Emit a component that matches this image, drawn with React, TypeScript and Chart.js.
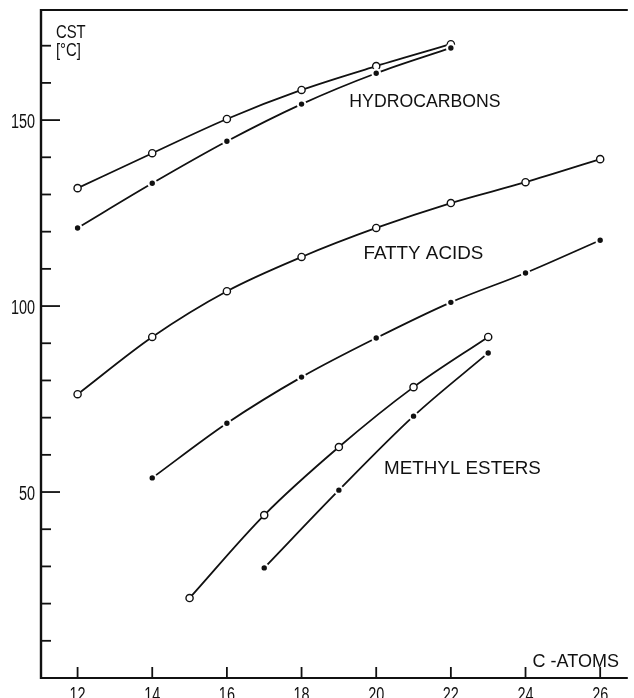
import React, { useEffect, useRef } from "react";
import { Chart, registerables } from "chart.js";

Chart.register(...registerables);

// ---- data (C-atoms vs CST in °C) ----
const hcX = [12, 14, 16, 18, 20, 22];
const hcOpen = [131.7, 141.1, 150.3, 158.1, 164.5, 170.4];
const hcFilled = [121.0, 133.0, 144.3, 154.3, 162.6, 169.4];

const faOpenX = [12, 14, 16, 18, 20, 22, 24, 26];
const faOpen = [76.3, 91.7, 104.0, 113.2, 121.0, 127.7, 133.3, 139.5];
const faFilledX = [14, 16, 18, 20, 22, 24, 26];
const faFilled = [53.8, 68.5, 80.9, 91.4, 101.0, 108.9, 117.7];

const meOpenX = [15, 17, 19, 21, 23];
const meOpen = [21.5, 43.8, 62.1, 78.2, 91.7];
const meFilledX = [17, 19, 21, 23];
const meFilled = [29.6, 50.5, 70.4, 87.4];

const xTicks = [12, 14, 16, 18, 20, 22, 24, 26];
const yMajorTicks = [50, 100, 150];
const yMinorTicks = [10, 20, 30, 40, 60, 70, 80, 90, 110, 120, 130, 140, 160, 170];

const seriesLabels = ["HYDROCARBONS", "FATTY ACIDS", "METHYL ESTERS"];
const axisTitleX = "C -ATOMS";
const axisTitleY = ["CST", "[°C]"];

const toPts = (xs: number[], ys: number[]) => xs.map((x, i) => ({ x, y: ys[i] }));

const INK = "#111";
const FONT = "Liberation Sans, Arial, sans-serif";

function drawText(
  ctx: CanvasRenderingContext2D,
  text: string,
  x: number,
  y: number,
  size: number,
  sx: number,
  align: "left" | "right" | "center"
) {
  ctx.save();
  ctx.font = `${size}px ${FONT}`;
  ctx.fillStyle = INK;
  ctx.textBaseline = "alphabetic";
  const w = ctx.measureText(text).width * sx;
  let left = x;
  if (align === "right") left = x - w;
  if (align === "center") left = x - w / 2;
  ctx.translate(left, y);
  ctx.scale(sx, 1);
  ctx.textAlign = "left";
  ctx.fillText(text, 0, 0);
  ctx.restore();
}

const framePlugin = {
  id: "frame",
  beforeDatasetsDraw(chart: any) {
    const { ctx, chartArea } = chart;
    const xs = chart.scales.x;
    const ys = chart.scales.y;
    ctx.save();
    ctx.strokeStyle = INK;
    ctx.lineCap = "butt";
    // left spine
    ctx.lineWidth = 2.4;
    ctx.beginPath();
    ctx.moveTo(chartArea.left, chartArea.top - 1);
    ctx.lineTo(chartArea.left, chartArea.bottom + 1);
    ctx.stroke();
    // bottom axis
    ctx.lineWidth = 2.2;
    ctx.beginPath();
    ctx.moveTo(chartArea.left - 1, chartArea.bottom);
    ctx.lineTo(chartArea.right, chartArea.bottom);
    ctx.stroke();
    // top border
    ctx.lineWidth = 1.8;
    ctx.beginPath();
    ctx.moveTo(chartArea.left - 1, chartArea.top);
    ctx.lineTo(chartArea.right, chartArea.top);
    ctx.stroke();
    // y ticks (inward)
    ctx.lineWidth = 1.8;
    yMajorTicks.forEach((v) => {
      const p = ys.getPixelForValue(v);
      ctx.beginPath();
      ctx.moveTo(chartArea.left, p);
      ctx.lineTo(chartArea.left + 19, p);
      ctx.stroke();
    });
    yMinorTicks.forEach((v) => {
      const p = ys.getPixelForValue(v);
      ctx.beginPath();
      ctx.moveTo(chartArea.left, p);
      ctx.lineTo(chartArea.left + 10, p);
      ctx.stroke();
    });
    // x ticks (inward)
    xTicks.forEach((v) => {
      const p = xs.getPixelForValue(v);
      ctx.beginPath();
      ctx.moveTo(p, chartArea.bottom);
      ctx.lineTo(p, chartArea.bottom - 11);
      ctx.stroke();
    });
    ctx.restore();

    // tick labels
    yMajorTicks.forEach((v) => {
      const p = ys.getPixelForValue(v);
      drawText(ctx, String(v), chartArea.left - 6, p + 7.5, 19.5, 0.74, "right");
    });
    xTicks.forEach((v) => {
      const p = xs.getPixelForValue(v);
      drawText(ctx, String(v), p, chartArea.bottom + 23, 19.5, 0.74, "center");
    });

    // annotations
    const X = (v: number) => xs.getPixelForValue(v);
    const Y = (v: number) => ys.getPixelForValue(v);
    drawText(ctx, seriesLabels[0], X(19.28), Y(155.4) + 7, 19, 0.93, "left");
    drawText(ctx, seriesLabels[1], X(19.66), Y(114.5) + 7, 19, 0.99, "left");
    drawText(ctx, seriesLabels[2], X(20.21), Y(56.7) + 7, 19, 0.99, "left");
    drawText(ctx, axisTitleX, X(24.19), Y(4.8) + 6.5, 18, 1.0, "left");
    drawText(ctx, axisTitleY[0], X(11.42), Y(173.7) + 6.5, 17.5, 0.85, "left");
    drawText(ctx, axisTitleY[1], X(11.42), Y(169.1) + 6.5, 17.5, 0.85, "left");
  },
};

const openStyle = {
  borderColor: INK,
  borderWidth: 1.8,
  pointRadius: 3.6,
  pointBorderWidth: 1.4,
  pointBackgroundColor: "#fff",
  pointBorderColor: INK,
  cubicInterpolationMode: "monotone" as const,
  fill: false,
};

const filledStyle = {
  borderColor: INK,
  borderWidth: 1.8,
  pointRadius: 3.8,
  pointBorderWidth: 2.2,
  pointBackgroundColor: INK,
  pointBorderColor: "#fff",
  cubicInterpolationMode: "monotone" as const,
  fill: false,
};

export default function App() {
  const ref = useRef<HTMLCanvasElement | null>(null);

  useEffect(() => {
    if (!ref.current) return;
    const chart = new Chart(ref.current, {
      type: "line",
      data: {
        datasets: [
          { label: "HC filled", data: toPts(hcX, hcFilled), ...filledStyle },
          { label: "HC open", data: toPts(hcX, hcOpen), ...openStyle },
          { label: "FA open", data: toPts(faOpenX, faOpen), ...openStyle },
          { label: "FA filled", data: toPts(faFilledX, faFilled), ...filledStyle },
          { label: "ME open", data: toPts(meOpenX, meOpen), ...openStyle },
          { label: "ME filled", data: toPts(meFilledX, meFilled), ...filledStyle },
        ],
      },
      options: {
        animation: false,
        responsive: false,
        devicePixelRatio: 1,
        layout: { padding: { left: 41, top: 10, right: 0, bottom: 20 } },
        plugins: {
          legend: { display: false },
          tooltip: { enabled: false },
        },
        scales: {
          x: { type: "linear", min: 11.02, max: 26.74, display: false },
          y: { type: "linear", min: 0, max: 179.6, display: false },
        },
      },
      plugins: [framePlugin],
    });
    return () => chart.destroy();
  }, []);

  return (
    <div style={{ position: "absolute", left: 0, top: 0, width: 634, height: 698, background: "#fff" }}>
      <canvas ref={ref} width={634} height={698} style={{ display: "block" }} />
    </div>
  );
}
